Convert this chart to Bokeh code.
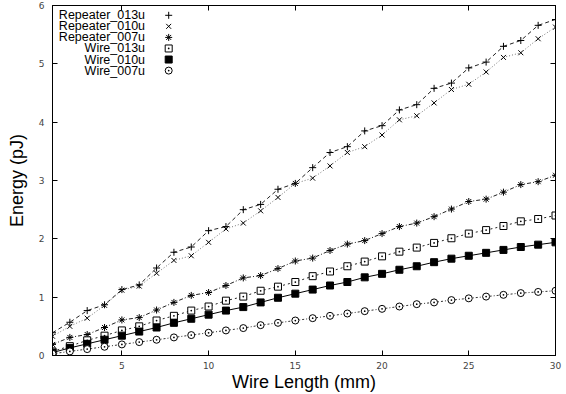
from bokeh.plotting import figure
from bokeh.models import LinearAxis, Range1d, FixedTicker, CustomJSTickFormatter
from bokeh.embed import file_html
from bokeh.resources import INLINE
from bokeh.core.properties import value

wire_length = list(range(1, 31))

repeater_013u = [0.39, 0.57, 0.77, 0.87, 1.13, 1.21, 1.50, 1.77, 1.86, 2.14,
                 2.21, 2.50, 2.59, 2.85, 2.95, 3.22, 3.48, 3.58, 3.85, 3.94,
                 4.21, 4.30, 4.58, 4.67, 4.93, 5.03, 5.30, 5.40, 5.66, 5.76]
repeater_010u = [0.33, 0.50, 0.64, 0.86, 1.12, 1.19, 1.41, 1.63, 1.71, 1.94,
                 2.17, 2.27, 2.48, 2.71, 2.95, 3.04, 3.25, 3.48, 3.58, 3.78,
                 4.04, 4.11, 4.33, 4.56, 4.65, 4.86, 5.11, 5.19, 5.43, 5.63]
repeater_007u = [0.19, 0.31, 0.36, 0.48, 0.61, 0.65, 0.78, 0.91, 1.03, 1.08,
                 1.20, 1.33, 1.37, 1.49, 1.62, 1.67, 1.80, 1.91, 1.97, 2.09,
                 2.21, 2.27, 2.38, 2.51, 2.64, 2.68, 2.80, 2.93, 2.98, 3.09]
wire_013u = [0.07, 0.16, 0.26, 0.34, 0.43, 0.50, 0.60, 0.68, 0.77, 0.84,
             0.94, 1.01, 1.11, 1.18, 1.26, 1.36, 1.44, 1.53, 1.61, 1.70,
             1.78, 1.85, 1.93, 2.01, 2.09, 2.15, 2.22, 2.30, 2.34, 2.40]
wire_010u = [0.05, 0.13, 0.20, 0.27, 0.34, 0.41, 0.48, 0.56, 0.63, 0.70,
             0.77, 0.83, 0.91, 0.99, 1.06, 1.13, 1.20, 1.26, 1.34, 1.40,
             1.47, 1.53, 1.60, 1.66, 1.71, 1.76, 1.81, 1.86, 1.90, 1.94]
wire_007u = [0.03, 0.07, 0.11, 0.15, 0.19, 0.23, 0.27, 0.31, 0.35, 0.39,
             0.43, 0.47, 0.52, 0.56, 0.60, 0.64, 0.68, 0.72, 0.76, 0.80,
             0.84, 0.88, 0.91, 0.95, 0.98, 1.01, 1.04, 1.07, 1.09, 1.11]

series_names = ["Repeater_013u", "Repeater_010u", "Repeater_007u",
                "Wire_013u", "Wire_010u", "Wire_007u"]
series_values = [repeater_013u, repeater_010u, repeater_007u,
                 wire_013u, wire_010u, wire_007u]
x_ticks = [5, 10, 15, 20, 25, 30]
y_ticks = [0, 1, 2, 3, 4, 5, 6]

X_MIN, X_MAX = 1, 30
Y_MIN, Y_MAX = 0, 6

styles = [
    dict(marker="cross", dash="4 3", color="#222222", fill=None),
    dict(marker="x", dash="1 2", color="#777777", fill=None),
    dict(marker="asterisk", dash="4 2 1 2", color="#222222", fill=None),
    dict(marker="square_dot", dash="2 3", color="#222222", fill="white"),
    dict(marker="square", dash="solid", color="#000000", fill="black"),
    dict(marker="circle_dot", dash="2 2 1 2", color="#333333", fill="white"),
]

p = figure(width=566, height=394, output_backend="svg", toolbar_location=None,
           x_range=Range1d(X_MIN, X_MAX), y_range=Range1d(Y_MIN, Y_MAX),
           min_border_left=52, min_border_right=11, min_border_top=5,
           min_border_bottom=38)
p.background_fill_color = "white"
p.border_fill_color = "white"
p.outline_line_color = "black"
p.outline_line_width = 1
p.xgrid.visible = False
p.ygrid.visible = False

for name, vals, st in zip(series_names, series_values, styles):
    p.line(wire_length, vals, line_color=st["color"], line_width=1,
           line_dash=st["dash"])
    p.scatter(wire_length, vals, marker=st["marker"], size=7,
              line_color="black", line_width=1,
              fill_color=st["fill"] if st["fill"] else None)

# key (legend) in the top-left corner: labels right aligned, marker to the right
key_text_x = X_MIN + 0.184 * (X_MAX - X_MIN)
key_mark_x = X_MIN + 0.231 * (X_MAX - X_MIN)
key_y = [Y_MAX - (0.028 + 0.0316 * k) * (Y_MAX - Y_MIN) for k in range(6)]
p.text(x=[key_text_x] * 6, y=key_y, text=series_names, text_align="right",
       text_baseline="middle", text_font=value("Liberation Sans"),
       text_font_size="12.5px", text_color="black")
for k, st in enumerate(styles):
    p.scatter([key_mark_x], [key_y[k]], marker=st["marker"], size=7,
              line_color="black", line_width=1,
              fill_color=st["fill"] if st["fill"] else None)

for ax in [p.xaxis[0], p.yaxis[0]]:
    ax.major_tick_in = 5
    ax.major_tick_out = 0
    ax.minor_tick_in = 0
    ax.minor_tick_out = 0
    ax.axis_line_color = "black"
    ax.major_tick_line_color = "black"
    ax.major_label_text_font = "DejaVu Sans"
    ax.major_label_text_font_size = "9px"
    ax.major_label_text_color = "#444444"
    ax.axis_label_text_font = "Liberation Sans"
    ax.axis_label_text_font_size = "18px"
    ax.axis_label_text_font_style = "normal"
    ax.axis_label_text_color = "black"

p.xaxis[0].ticker = FixedTicker(ticks=x_ticks)
p.yaxis[0].ticker = FixedTicker(ticks=y_ticks)
p.xaxis[0].axis_label = "Wire Length (mm)"
p.yaxis[0].axis_label = "Energy (pJ)"
p.xaxis[0].major_label_standoff = 6
p.xaxis[0].axis_label_standoff = 0
p.yaxis[0].major_label_standoff = 8
p.yaxis[0].axis_label_standoff = 9

# mirrored tick marks on top and right (no labels)
top_ax = LinearAxis(ticker=FixedTicker(ticks=x_ticks),
                    formatter=CustomJSTickFormatter(code="return '';"))
right_ax = LinearAxis(ticker=FixedTicker(ticks=y_ticks),
                      formatter=CustomJSTickFormatter(code="return '';"))
for ax in [top_ax, right_ax]:
    ax.major_tick_in = 5
    ax.major_tick_out = 0
    ax.minor_tick_in = 0
    ax.minor_tick_out = 0
    ax.major_label_standoff = 0
    ax.axis_line_color = "black"
p.add_layout(top_ax, "above")
p.add_layout(right_ax, "right")

open("out.html", "w").write(file_html(p, INLINE))
